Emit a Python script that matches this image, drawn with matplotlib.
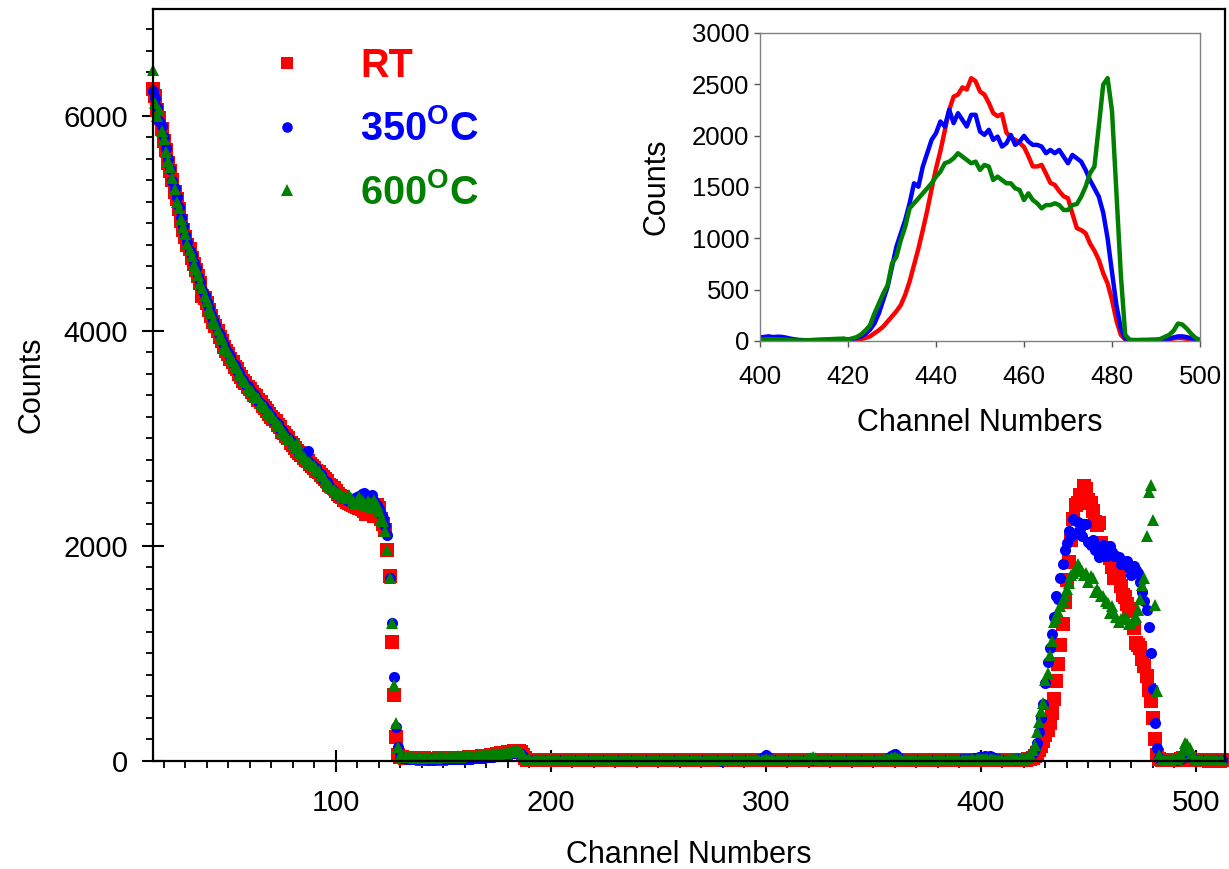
import numpy as np
import matplotlib
matplotlib.use("Agg")
import matplotlib.pyplot as plt
from matplotlib.ticker import MultipleLocator

plt.rcParams['font.family'] = ['Liberation Sans', 'DejaVu Sans']
plt.rcParams['mathtext.fontset'] = 'custom'
plt.rcParams['mathtext.rm'] = 'Liberation Sans'
plt.rcParams['mathtext.bf'] = 'Liberation Sans:bold'

# channel numbers 15 .. 512
channels = np.arange(15, 513)

labels = ["RT", r"350$^{\mathbf{O}}$C", r"600$^{\mathbf{O}}$C"]
colors = ["#ff0000", "#0000ff", "#008000"]

# RT
counts_rt = [
    # 15-29
    6250, 6180, 6050, 5980, 5870, 5760, 5680, 5560, 5480, 5400, 5290, 5220, 5130, 5020, 4940,
    # 30-49
    4870, 4800, 4760, 4680, 4620, 4560, 4510, 4440, 4320, 4300, 4260, 4190, 4140, 4080, 4040, 4000, 3940, 3900, 3850, 3810,
    # 50-69
    3780, 3740, 3710, 3660, 3640, 3600, 3570, 3530, 3510, 3480, 3460, 3430, 3400, 3390, 3360, 3340, 3300, 3280, 3250, 3230,
    # 70-89
    3200, 3180, 3160, 3120, 3100, 3060, 3050, 3020, 3000, 2960, 2940, 2910, 2880, 2860, 2840, 2820, 2800, 2790, 2760, 2740,
    # 90-109
    2720, 2700, 2690, 2660, 2640, 2620, 2600, 2570, 2560, 2540, 2510, 2480, 2460, 2450, 2430, 2410, 2400, 2390, 2380, 2370,
    # 110-121
    2360, 2350, 2340, 2320, 2300, 2360, 2330, 2340, 2280, 2380, 2350, 2250,
    # 122-129
    2200, 2150, 1962, 1720, 1107, 614, 220, 60,
    # 130-189
    40, 35, 32, 30, 30, 28, 27, 25, 26, 24, 23, 24, 22, 23, 21, 22, 23, 22, 24, 23,
    25, 24, 26, 25, 27, 28, 27, 29, 30, 31, 30, 32, 33, 35, 34, 36, 38, 40, 42, 45,
    47, 50, 52, 55, 58, 62, 66, 70, 74, 78, 82, 86, 88, 92, 95, 90, 80, 55, 25, 12,
    # 190-399
    12, 10, 9, 8, 9, 10, 8, 7, 9, 8, 10, 9, 8, 7, 8, 9, 10, 8, 9, 7,
    8, 9, 8, 10, 9, 7, 8, 9, 8, 10, 9, 8, 7, 9, 8, 10, 9, 8, 9, 7,
    8, 6, 7, 8, 9, 7, 8, 6, 7, 9, 8, 7, 6, 8, 7, 9, 8, 6, 7, 8,
    7, 8, 9, 7, 6, 8, 7, 9, 8, 7, 6, 8, 9, 7, 8, 6, 7, 8, 9, 7,
    8, 7, 6, 8, 9, 7, 8, 6, 7, 5, 8, 7, 6, 8, 7, 9, 8, 7, 6, 8,
    7, 8, 9, 7, 8, 6, 7, 8, 9, 10, 12, 10, 8, 7, 8, 6, 7, 8, 9, 7,
    8, 7, 6, 8, 7, 9, 8, 7, 6, 8, 9, 10, 11, 9, 8, 7, 6, 8, 7, 9,
    8, 7, 6, 8, 9, 7, 8, 6, 7, 8, 9, 7, 8, 6, 7, 8, 7, 9, 8, 7,
    6, 8, 7, 9, 8, 7, 6, 8, 9, 10, 12, 10, 9, 8, 7, 6, 8, 7, 9, 8,
    7, 6, 8, 7, 9, 8, 7, 6, 8, 7, 9, 8, 7, 6, 8, 7, 9, 8, 7, 8,
    7, 8, 9, 7, 8, 6, 7, 8, 7, 8,
    # 400-419
    8, 9, 8, 10, 9, 8, 7, 6, 6, 5, 6, 5, 6, 7, 6, 7, 8, 9, 10, 10,
    # 420-500
    10, 12, 15, 20, 30, 45, 75, 105, 140, 190,
    240, 290, 350, 450, 580, 740, 900, 1080, 1270, 1480,
    1680, 1850, 2050, 2250, 2380, 2400, 2470, 2450, 2560, 2530,
    2430, 2400, 2320, 2220, 2190, 2210, 2030, 1980, 1960, 1930,
    1890, 1800, 1700, 1700, 1715, 1630, 1540, 1520, 1460, 1410,
    1390, 1240, 1100, 1080, 1050, 950, 880, 790, 660, 560,
    400, 200, 60, 15, 8, 6, 5, 5, 6, 7,
    8, 10, 12, 18, 25, 30, 28, 20, 12, 8, 6,
    # 501-512
    6, 5, 5, 6, 5, 4, 5, 6, 5, 5, 4, 5,
]

# 350 C
counts_350 = [
    # 15-29
    6230, 6160, 6080, 5950, 5900, 5800, 5700, 5600, 5500, 5390, 5330, 5240, 5150, 5060, 4970,
    # 30-49
    4890, 4820, 4740, 4700, 4630, 4580, 4500, 4450, 4380, 4330, 4270, 4210, 4150, 4100, 4050, 3990, 3960, 3910, 3870, 3820,
    # 50-69
    3790, 3760, 3700, 3680, 3630, 3610, 3560, 3540, 3500, 3490, 3450, 3420, 3410, 3370, 3350, 3320, 3310, 3270, 3260, 3220,
    # 70-89
    3210, 3170, 3150, 3130, 3090, 3080, 3040, 3010, 3000, 2970, 2950, 2920, 2900, 2860, 2840, 2830, 2810, 2880, 2770, 2750,
    # 90-109
    2730, 2720, 2680, 2670, 2620, 2600, 2590, 2560, 2530, 2510, 2480, 2470, 2460, 2440, 2440, 2430, 2420, 2410, 2420, 2440,
    # 110-121
    2450, 2460, 2480, 2490, 2470, 2440, 2460, 2470, 2420, 2380, 2340, 2300,
    # 122-129
    2260, 2180, 2100, 1700, 1280, 780, 320, 130,
    # 130-189
    50, 30, 25, 22, 20, 18, 17, 16, 15, 15, 14, 15, 14, 13, 14, 13, 14, 15, 14, 15,
    15, 16, 15, 17, 16, 18, 17, 19, 20, 19, 21, 22, 23, 22, 24, 25, 26, 28, 30, 32,
    34, 36, 38, 40, 43, 46, 50, 54, 58, 62, 66, 70, 74, 78, 80, 76, 66, 45, 20, 10,
    # 190-399
    10, 8, 7, 6, 7, 8, 6, 5, 7, 6, 8, 7, 6, 5, 6, 7, 8, 6, 7, 5,
    6, 7, 6, 8, 7, 5, 6, 7, 6, 8, 7, 6, 5, 7, 6, 8, 7, 6, 7, 5,
    6, 5, 6, 7, 8, 6, 7, 5, 6, 8, 7, 6, 5, 7, 6, 8, 7, 5, 6, 7,
    6, 7, 8, 6, 5, 7, 6, 8, 7, 6, 5, 7, 8, 6, 7, 5, 6, 7, 8, 6,
    7, 6, 5, 7, 8, 6, 7, 5, 6, 4, 7, 6, 5, 7, 6, 8, 7, 6, 5, 7,
    6, 7, 8, 6, 7, 8, 10, 14, 22, 38, 55, 36, 20, 12, 8, 6, 7, 6, 8, 6,
    7, 6, 5, 7, 6, 8, 7, 6, 5, 7, 8, 7, 6, 7, 6, 8, 5, 7, 6, 8,
    7, 6, 5, 7, 8, 6, 7, 5, 6, 7, 8, 6, 7, 5, 6, 7, 6, 8, 7, 6,
    5, 7, 6, 8, 9, 12, 18, 28, 42, 58, 65, 48, 30, 16, 10, 7, 6, 7, 8, 6,
    6, 5, 7, 6, 8, 7, 6, 5, 7, 6, 8, 7, 6, 5, 7, 8, 10, 9, 8, 10,
    12, 14, 13, 16, 18, 20, 22, 26, 30, 33,
    # 400-419
    35, 40, 45, 38, 42, 40, 32, 22, 15, 10, 8, 7, 8, 9, 10, 12, 14, 15, 16, 16,
    # 420-500
    15, 20, 30, 45, 72, 110, 170, 267, 397, 527,
    722, 918, 1048, 1178, 1341, 1536, 1503, 1699, 1829, 1959,
    2024, 2138, 2089, 2252, 2122, 2219, 2154, 2089, 2203, 2203,
    2040, 2008, 2057, 1959, 1991, 1894, 1926, 2008, 1910, 1943,
    1998, 1943, 1910, 1910, 1894, 1829, 1861, 1829, 1861, 1796,
    1731, 1812, 1780, 1747, 1666, 1568, 1487, 1406, 1250, 1000,
    670, 350, 120, 25, 8, 5, 5, 6, 6, 7,
    8, 10, 15, 22, 35, 45, 45, 38, 25, 15, 8,
    # 501-512
    6, 5, 6, 5, 5, 6, 5, 5, 6, 5, 5, 6,
]

# 600 C
counts_600 = [
    # 15-29
    6420, 6120, 6000, 6050, 5860, 5780, 5660, 5580, 5520, 5420, 5320, 5200, 5140, 5040, 4960,
    # 30-49
    4900, 4810, 4750, 4690, 4610, 4570, 4520, 4440, 4400, 4320, 4280, 4200, 4160, 4090, 4060, 4010, 3950, 3920, 3850, 3830,
    # 50-69
    3800, 3750, 3720, 3670, 3650, 3600, 3580, 3540, 3520, 3470, 3450, 3440, 3400, 3380, 3370, 3330, 3300, 3290, 3240, 3230,
    # 70-89
    3220, 3190, 3150, 3120, 3110, 3070, 3040, 3020, 2990, 2980, 2950, 2910, 2960, 2870, 2850, 2830, 2800, 2780, 2770, 2740,
    # 90-109
    2740, 2710, 2700, 2650, 2650, 2610, 2580, 2570, 2540, 2520, 2500, 2490, 2480, 2460, 2450, 2440, 2470, 2440, 2420, 2400,
    # 110-121
    2420, 2450, 2430, 2400, 2380, 2420, 2400, 2360, 2430, 2380, 2320, 2250,
    # 122-129
    2230, 2140, 1962, 1700, 1280, 710, 350, 130,
    # 130-189
    45, 40, 38, 36, 35, 34, 33, 32, 33, 31, 32, 30, 31, 32, 30, 31, 33, 32, 34, 33,
    35, 34, 36, 38, 37, 40, 39, 42, 41, 44, 43, 45, 47, 46, 48, 50, 52, 51, 54, 56,
    58, 60, 59, 62, 64, 66, 68, 70, 74, 78, 82, 86, 90, 94, 98, 92, 80, 55, 25, 12,
    # 190-399
    14, 12, 11, 10, 11, 12, 10, 9, 11, 10, 12, 11, 10, 9, 10, 11, 12, 10, 11, 9,
    10, 11, 10, 12, 11, 9, 10, 11, 10, 12, 11, 10, 9, 11, 10, 12, 11, 10, 11, 9,
    10, 9, 10, 11, 12, 10, 11, 9, 10, 12, 11, 10, 9, 11, 10, 12, 11, 9, 10, 11,
    10, 11, 12, 10, 9, 11, 10, 12, 11, 10, 9, 11, 12, 10, 11, 9, 10, 11, 12, 10,
    11, 10, 9, 11, 12, 10, 11, 9, 10, 8, 11, 10, 9, 11, 10, 12, 11, 10, 9, 11,
    10, 11, 12, 10, 11, 9, 10, 11, 12, 13, 15, 13, 11, 10, 11, 9, 10, 11, 12, 10,
    11, 10, 9, 11, 10, 12, 11, 10, 12, 15, 20, 28, 35, 28, 18, 13, 10, 11, 10, 12,
    11, 10, 9, 11, 12, 10, 11, 9, 10, 11, 12, 10, 11, 9, 10, 11, 10, 12, 11, 10,
    9, 11, 10, 12, 13, 15, 18, 22, 26, 30, 34, 28, 22, 16, 12, 10, 11, 10, 12, 10,
    10, 9, 11, 10, 12, 11, 10, 9, 11, 10, 12, 11, 10, 9, 11, 10, 12, 11, 10, 12,
    11, 10, 12, 11, 13, 12, 14, 13, 15, 14,
    # 400-419
    15, 16, 18, 17, 16, 15, 12, 8, 6, 5, 6, 8, 10, 12, 14, 16, 18, 20, 22, 24,
    # 420-500
    15, 25, 39, 65, 104, 153, 267, 364, 462, 543,
    755, 820, 983, 1113, 1292, 1341, 1389, 1438, 1487, 1536,
    1601, 1650, 1731, 1747, 1780, 1829, 1796, 1764, 1731, 1747,
    1666, 1715, 1699, 1568, 1601, 1568, 1536, 1536, 1487, 1471,
    1373, 1438, 1373, 1341, 1292, 1324, 1324, 1341, 1324, 1276,
    1276, 1324, 1334, 1406, 1503, 1634, 1699, 2089, 2496, 2561,
    2240, 1450, 650, 60, 12, 10, 10, 12, 12, 14,
    15, 20, 40, 60, 100, 170, 160, 120, 70, 30, 10,
    # 501-512
    8, 7, 8, 7, 8, 7, 8, 8, 7, 8, 7, 8,
]

series = [counts_rt, counts_350, counts_600]
markers = ["s", "o", "^"]
msizes = [9.4, 8.0, 9.0]

fig = plt.figure(figsize=(12.29, 8.69), dpi=100)
ax = fig.add_axes([153 / 1229, 1 - 761 / 869, (1225 - 153) / 1229, (761 - 9) / 869])

for y, c, m, ms, lab in zip(series, colors, markers, msizes, labels):
    ax.plot(channels, y, linestyle="none", marker=m, ms=ms, color=c,
            markeredgewidth=0, label=lab, clip_on=False)

ax.set_xlim(15, 513.5)
ax.set_ylim(0, 6990)
ax.set_yticks([0, 2000, 4000, 6000])
ax.yaxis.set_minor_locator(MultipleLocator(200))
ax.xaxis.set_major_locator(MultipleLocator(100))
ax.xaxis.set_minor_locator(MultipleLocator(10))
ax.tick_params(which="major", direction="inout", length=16, width=1.5,
               labelsize=21, pad=10)
ax.tick_params(which="minor", direction="out", length=5, width=1.3)
ax.tick_params(axis="x", which="major", pad=12)
for s in ax.spines.values():
    s.set_linewidth(1.6)
ax.set_xlabel("Channel Numbers", fontsize=22, labelpad=17)
ax.set_ylabel("Counts", fontsize=22, labelpad=12)

leg = ax.legend(loc="upper left", bbox_to_anchor=(0.2175, 0.946),
                bbox_transform=fig.transFigure, frameon=False, numpoints=1,
                handlelength=1.0, handletextpad=1.35, labelspacing=0.62,
                borderpad=0, borderaxespad=0, markerscale=0.95,
                prop={"size": 28.5, "weight": "bold"}, labelcolor=colors)

# inset, same data between channels 400 and 500
ax_in = fig.add_axes([760 / 1229, 1 - 341 / 869, (1200 - 760) / 1229, (341 - 33) / 869])
sel = (channels >= 400) & (channels <= 500)
for y, c in zip(series, colors):
    ax_in.plot(channels[sel], np.array(y)[sel], color=c, lw=3.2)
ax_in.set_xlim(400, 500)
ax_in.set_ylim(0, 3000)
ax_in.xaxis.set_major_locator(MultipleLocator(20))
ax_in.yaxis.set_major_locator(MultipleLocator(500))
ax_in.tick_params(direction="out", length=4, width=1, color="#555555",
                  labelsize=18.5)
ax_in.tick_params(axis="x", pad=13)
for s in ax_in.spines.values():
    s.set_color("#808080")
    s.set_linewidth(1.0)
ax_in.set_xlabel("Channel Numbers", fontsize=22, labelpad=14)
ax_in.set_ylabel("Counts", fontsize=22, labelpad=15)

fig.savefig("out.png", dpi=100)
